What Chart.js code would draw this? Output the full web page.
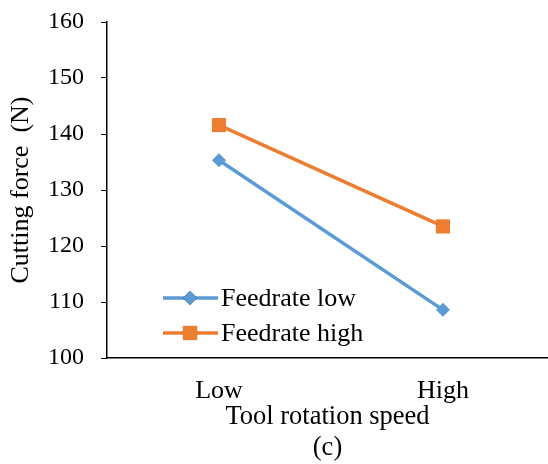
<!DOCTYPE html>
<html lang="en">
<head>
    <meta charset="UTF-8">
    <title>Cutting force vs tool rotation speed</title>
    <script src="https://cdn.jsdelivr.net/npm/chart.js"></script>
    <style>
        html, body {
            margin: 0;
            padding: 0;
            background: #fff;
            overflow: hidden;
        }
        #forceChart {
            display: block;
        }
    </style>
</head>
<body>
    <canvas id="forceChart" width="548" height="464"></canvas>

    <script>
        // Chart data
        const categories = ['Low', 'High'];
        const feedrateLow = [135.3, 108.6];
        const feedrateHigh = [141.6, 123.5];
        const yTicks = [100, 110, 120, 130, 140, 150, 160];

        const serif = '"Liberation Serif", "Times New Roman", serif';

        // Points on a linear x axis so the category spacing can run past the right edge
        function toPoints(values) {
            return values.map((v, i) => ({ x: i, y: v }));
        }

        // Legend drawn inside the plot, lower left
        const insideLegend = {
            id: 'insideLegend',
            afterDraw(chart) {
                const ctx = chart.ctx;
                const rows = [
                    { y: 298, ds: chart.data.datasets[0] },
                    { y: 333, ds: chart.data.datasets[1] }
                ];
                ctx.save();
                rows.forEach(row => {
                    ctx.strokeStyle = row.ds.borderColor;
                    ctx.lineWidth = row.ds.borderWidth;
                    ctx.beginPath();
                    ctx.moveTo(163, row.y);
                    ctx.lineTo(218, row.y);
                    ctx.stroke();
                    Chart.helpers.drawPoint(ctx, {
                        pointStyle: row.ds.pointStyle,
                        radius: row.ds.pointRadius,
                        borderWidth: 0
                    }, 190, row.y);
                    ctx.fillStyle = row.ds.pointBackgroundColor;
                    ctx.fill();
                    ctx.fillStyle = '#000';
                    ctx.font = '26px ' + serif;
                    ctx.textAlign = 'left';
                    ctx.textBaseline = 'middle';
                    ctx.fillText(row.ds.label, 221, row.y + 1);
                });
                ctx.restore();
            }
        };

        const ctx = document.getElementById('forceChart').getContext('2d');
        new Chart(ctx, {
            type: 'line',
            data: {
                datasets: [{
                    label: 'Feedrate low',
                    data: toPoints(feedrateLow),
                    borderColor: '#5B9BD5',
                    backgroundColor: '#5B9BD5',
                    pointBackgroundColor: '#5B9BD5',
                    pointBorderWidth: 0,
                    borderWidth: 3.5,
                    pointStyle: 'rectRot',
                    pointRadius: 7,
                    tension: 0
                }, {
                    label: 'Feedrate high',
                    data: toPoints(feedrateHigh),
                    borderColor: '#ED7D31',
                    backgroundColor: '#ED7D31',
                    pointBackgroundColor: '#ED7D31',
                    pointBorderWidth: 0,
                    borderWidth: 3.5,
                    pointStyle: 'rect',
                    pointRadius: 10,
                    tension: 0
                }]
            },
            options: {
                responsive: false,
                animation: false,
                layout: {
                    autoPadding: false,
                    padding: { top: 22, right: 0, left: 0, bottom: 0 }
                },
                plugins: {
                    legend: { display: false },
                    tooltip: { enabled: false }
                },
                scales: {
                    x: {
                        type: 'linear',
                        min: -0.5,
                        max: 1.469,
                        afterFit(scale) {
                            scale.height = 106;
                            scale.paddingLeft = 0;
                            scale.paddingRight = 0;
                        },
                        afterBuildTicks(scale) {
                            scale.ticks = categories.map((c, i) => ({ value: i }));
                        },
                        grid: {
                            drawOnChartArea: false,
                            drawTicks: false
                        },
                        border: { display: true, color: '#000', width: 1.5 },
                        ticks: {
                            padding: 18,
                            color: '#000',
                            font: { family: serif, size: 26 },
                            callback: value => categories[value]
                        },
                        title: {
                            display: true,
                            text: ['Tool rotation speed', '(c)'],
                            color: '#000',
                            font: { family: serif, size: 26.5, lineHeight: 31 / 26.5 },
                            padding: { top: 0, bottom: 0 }
                        }
                    },
                    y: {
                        min: 100,
                        max: 160,
                        afterFit(scale) {
                            scale.width = 107;
                            scale.paddingTop = 0;
                            scale.paddingBottom = 0;
                        },
                        afterBuildTicks(scale) {
                            scale.ticks = yTicks.map(v => ({ value: v }));
                        },
                        grid: {
                            drawOnChartArea: false,
                            drawTicks: true,
                            tickLength: 6,
                            color: '#000'
                        },
                        border: { display: true, color: '#000', width: 1.5 },
                        ticks: {
                            padding: 17,
                            color: '#000',
                            font: { family: serif, size: 24 }
                        },
                        title: {
                            display: true,
                            text: 'Cutting force  (N)',
                            color: '#000',
                            font: { family: serif, size: 26 },
                            padding: { top: 6, bottom: 0 }
                        }
                    }
                }
            },
            plugins: [insideLegend]
        });
    </script>
</body>
</html>
